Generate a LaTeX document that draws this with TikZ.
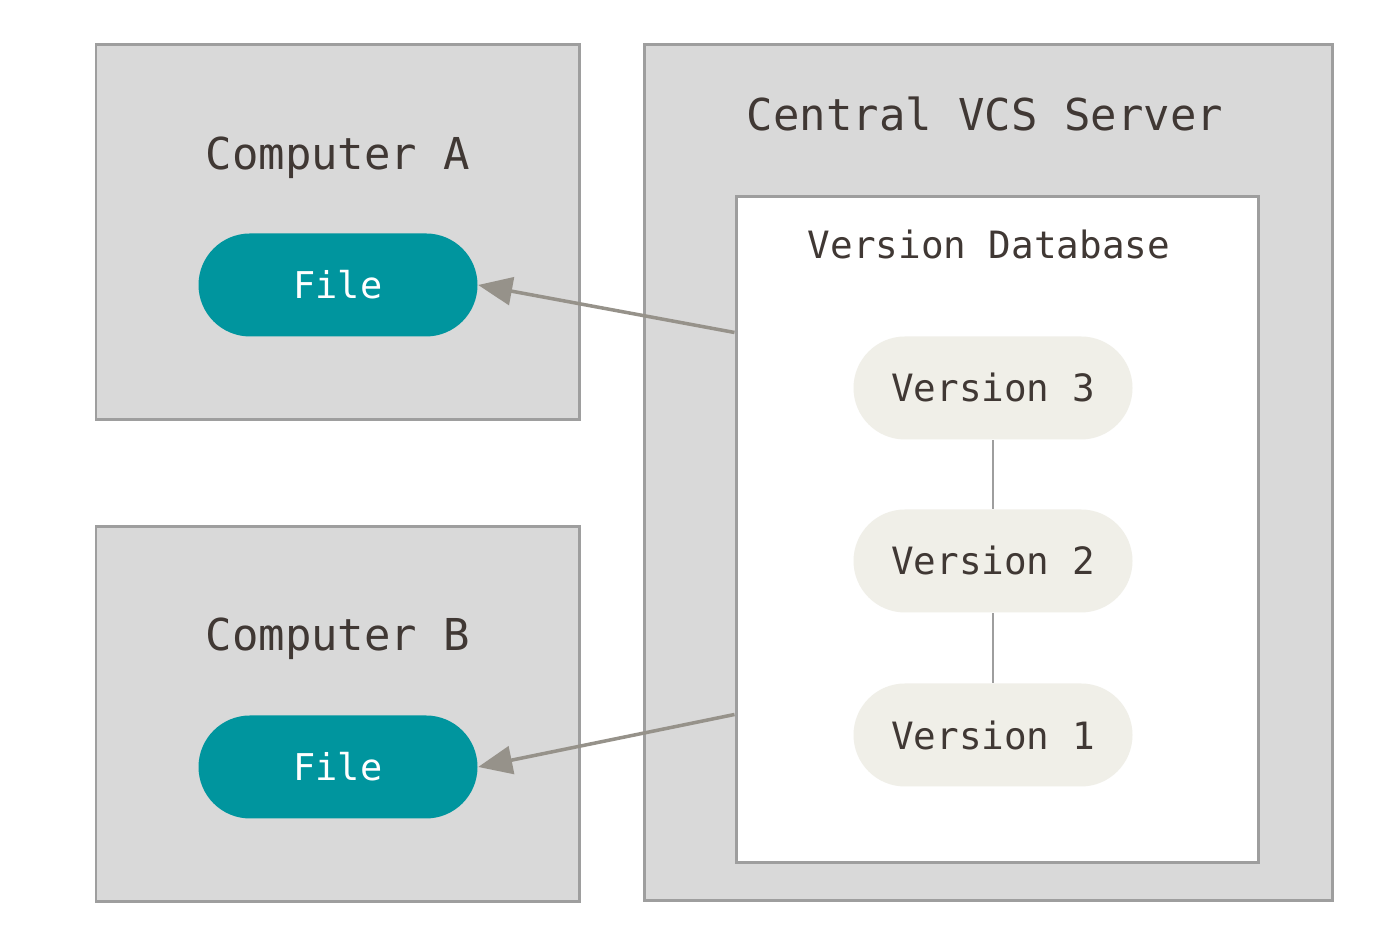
\documentclass[tikz,border=0pt]{standalone}
\usepackage{fontspec}
\setmonofont{DejaVu Sans Mono}
\usetikzlibrary{calc,positioning,arrows.meta}

\definecolor{boxgray}{RGB}{217,217,217}
\definecolor{edgegray}{RGB}{158,158,158}
\definecolor{fileteal}{RGB}{0,149,158}
\definecolor{versioncream}{RGB}{240,239,232}
\definecolor{inkbrown}{RGB}{64,56,52}
\definecolor{arrowgray}{RGB}{150,146,138}

\tikzset{
  machine/.style={draw=edgegray, fill=boxgray, line width=0.85pt, inner sep=0pt},
  database/.style={draw=edgegray, fill=white, line width=0.85pt, inner sep=0pt,
    minimum width=5.22cm, minimum height=6.66cm},
  bigtitle/.style={text=inkbrown, font=\ttfamily\fontsize{12.5}{15}\selectfont},
  smalltitle/.style={text=inkbrown, font=\ttfamily\fontsize{10.7}{13}\selectfont},
  filepill/.style={fill=fileteal, text=white, rounded corners=0.515cm,
    minimum width=2.79cm, minimum height=1.03cm, inner sep=0pt,
    font=\ttfamily\fontsize{10.5}{13}\selectfont},
  versionpill/.style={fill=versioncream, text=inkbrown, rounded corners=0.515cm,
    minimum width=2.79cm, minimum height=1.03cm, inner sep=0pt,
    font=\ttfamily\fontsize{10.7}{13}\selectfont},
  checkout/.style={draw=arrowgray, line width=1pt,
    -{Triangle[length=3.4mm,width=2.8mm]}},
  history/.style={draw=edgegray, line width=0.6pt}
}

\begin{document}
\begin{tikzpicture}
        \useasboundingbox (0,0) rectangle (14,9.28);

        % computers
        \node[machine, minimum width=4.83cm, minimum height=3.75cm] (compA) at (3.375,6.955) {};
        \node[machine, minimum width=4.83cm, minimum height=3.75cm] (compB) at (3.375,2.135) {};
        \node[bigtitle] (titleA) at (3.38,7.70) {Computer A};
        \node[bigtitle] (titleB) at (3.38,2.89) {Computer B};
        \node[filepill] (fileA) at (3.38,6.43) {File};
        \node[filepill] (fileB) at (3.38,1.61) {File};

        % server
        \node[machine, minimum width=6.88cm, minimum height=8.56cm] (server) at (9.88,4.55) {};
        \node[bigtitle] (serverTitle) at (9.85,8.14) {Central VCS Server};
        \node[database] (db) at (9.97,3.98) {};
        \node[smalltitle] (dbTitle) at (9.89,6.83) {Version Database};

        \node[versionpill] (v3) at (9.93,5.40) {Version 3};
        \node[versionpill] (v2) at (9.93,3.67) {Version 2};
        \node[versionpill] (v1) at (9.93,1.93) {Version 1};
        \draw[history] (v3) -- (v2);
        \draw[history] (v2) -- (v1);

        \coordinate (outA) at ($(db.north west)+(0,-1.37)$);
        \coordinate (outB) at ($(db.north west)+(0,-5.19)$);
        \draw[checkout] (outA) -- (fileA.east);
        \draw[checkout] (outB) -- (fileB.east);
\end{tikzpicture}
\end{document}
